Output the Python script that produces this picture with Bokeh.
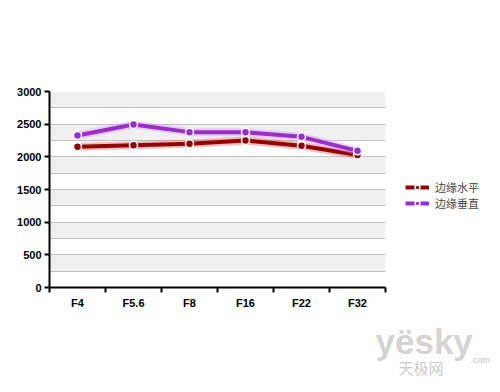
from bokeh.plotting import figure
from bokeh.models import (Range1d, FixedTicker, Legend, LegendItem, Label, ColumnDataSource)
from bokeh.embed import file_html
from bokeh.resources import INLINE

categories = ["F4", "F5.6", "F8", "F16", "F22", "F32"]
horizontal = [2155, 2178, 2199, 2250, 2170, 2028]   # 边缘水平
vertical = [2327, 2495, 2378, 2378, 2306, 2092]     # 边缘垂直
y_ticks = [0, 500, 1000, 1500, 2000, 2500, 3000]

xs = [i + 0.5 for i in range(len(categories))]

p = figure(frame_width=336, frame_height=196, output_backend="svg", toolbar_location=None,
           x_range=Range1d(0, len(categories)), y_range=Range1d(0, 3000),
           min_border_left=49, min_border_right=115, min_border_top=91, min_border_bottom=105)
p.outline_line_color = None
p.background_fill_color = "white"
p.border_fill_color = "white"

# grid
p.xgrid.visible = False
p.ygrid.ticker = FixedTicker(ticks=list(range(-250, 3001, 250)))
p.ygrid.grid_line_color = "#c0c0c0"
p.ygrid.grid_line_width = 1
p.ygrid.band_fill_color = "#f0f0f0"
p.ygrid.band_fill_alpha = 1.0

# axes
p.yaxis.ticker = FixedTicker(ticks=y_ticks)
p.xaxis.ticker = FixedTicker(ticks=xs, minor_ticks=list(range(len(categories) + 1)))
p.xaxis.major_label_overrides = {x: c for x, c in zip(xs, categories)}
for ax in (p.xaxis[0], p.yaxis[0]):
    ax.axis_line_width = 2
    ax.axis_line_color = "black"
    ax.major_label_text_font = "Liberation Sans"
    ax.major_label_text_font_style = "bold"
    ax.major_label_text_font_size = "11px"
    ax.major_label_text_color = "black"
    ax.major_tick_line_width = 2
p.yaxis.major_tick_in = 0
p.yaxis.major_tick_out = 5
p.yaxis.minor_tick_line_color = None
p.yaxis.major_label_standoff = 3
p.xaxis.major_tick_in = 0
p.xaxis.major_tick_out = 0
p.xaxis.minor_tick_in = 0
p.xaxis.minor_tick_out = 5
p.xaxis.minor_tick_line_width = 2
p.xaxis.minor_tick_line_color = "black"
p.xaxis.major_label_standoff = 4

series = [("边缘水平", horizontal, "#930606", "#e07070"),
          ("边缘垂直", vertical, "#9a2ec8", "#d8a0f0")]
items = []
for name, vals, col, glow in series:
    src = ColumnDataSource(dict(x=xs, y=vals))
    g = p.line("x", "y", source=src, line_color=glow, line_width=8, line_alpha=0.45)
    l = p.line("x", "y", source=src, line_color=col, line_width=4)
    m = p.scatter("x", "y", source=src, size=8, fill_color=col, line_color="white", line_width=1.5)
    items.append(LegendItem(label=name, renderers=[l, m]))

legend = Legend(items=items, location=(20, 76), margin=0, padding=10,
                border_line_color=None, background_fill_alpha=0,
                label_text_font="Noto Sans CJK SC", label_text_font_size="11px",
                label_text_line_height=1.0, label_height=12,
                glyph_width=24, glyph_height=12, label_standoff=6, spacing=0)
p.add_layout(legend, "right")

# watermark (below the plot)
p.add_layout(Label(x=326, y=9, x_units="screen", y_units="screen", text="yësky",
                   text_font="Liberation Sans", text_font_style="bold", text_font_size="35px",
                   text_baseline="alphabetic", text_color="#d4d4d4"), "below")
p.add_layout(Label(x=349, y=4, x_units="screen", y_units="screen", text="天极网",
                   text_font="Noto Sans CJK SC", text_font_size="15px",
                   text_baseline="alphabetic", text_color="#cccccc"), "below")
p.add_layout(Label(x=421, y=22, x_units="screen", y_units="screen", text=".com",
                   text_font="Liberation Sans", text_font_size="9px",
                   text_baseline="alphabetic", text_color="#c4c4c4"), "below")

open("out.html", "w").write(file_html(p, INLINE))
